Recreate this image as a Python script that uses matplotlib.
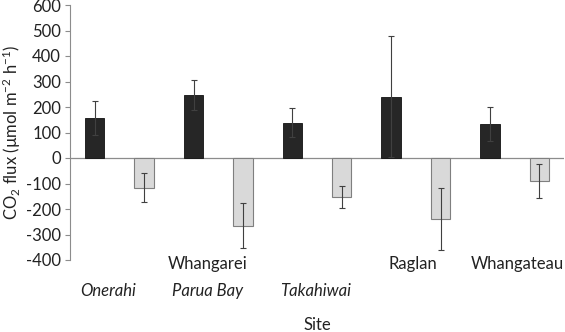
import numpy as np
import matplotlib.pyplot as plt

sites = ['Onerahi', 'Parua Bay', 'Takahiwai', 'Raglan', 'Whangateau']
# dark bars (first of each pair), light bars (second)
dark_vals = [156, 247, 138, 240, 133]
dark_err = [66, 58, 57, 238, 68]
light_vals = [-116, -265, -152, -239, -91]
light_err = [57, 87, 43, 120, 66]

plt.rcParams['font.family'] = ['Lato', 'DejaVu Sans']
plt.rcParams['font.size'] = 12
plt.rcParams['mathtext.fontset'] = 'custom'
plt.rcParams['mathtext.rm'] = 'Lato'
plt.rcParams['mathtext.it'] = 'Lato:italic'
plt.rcParams['axes.unicode_minus'] = False

fig = plt.figure(figsize=(5.65, 3.32), dpi=100)
ax = fig.add_axes([70/565, 1-260/332, 494/565, 255/332])

n = len(sites)
xd = np.arange(n) * 2
xl = xd + 1
w = 0.39
ax.bar(xd, dark_vals, w, color='#262626', edgecolor='#111111', linewidth=0.6, zorder=2)
ax.bar(xl, light_vals, w, color='#d9d9d9', edgecolor='#7f7f7f', linewidth=0.8, zorder=2)
ax.errorbar(xd, dark_vals, yerr=dark_err, fmt='none', ecolor='#404040',
            elinewidth=0.8, capsize=2.5, capthick=0.8, zorder=3)
ax.errorbar(xl, light_vals, yerr=light_err, fmt='none', ecolor='#404040',
            elinewidth=0.8, capsize=2.5, capthick=0.8, zorder=3)

ax.axhline(0, color='#8c8c8c', linewidth=0.9, zorder=1)
ax.set_xlim(-0.5, 2 * n - 0.5)
ax.set_ylim(-400, 600)
ax.set_yticks(np.arange(-400, 601, 100))
ax.set_xticks([])
for s in ['top', 'right', 'bottom']:
    ax.spines[s].set_visible(False)
ax.spines['left'].set_color('#8c8c8c')
ax.tick_params(axis='y', direction='out', length=3.5, color='#8c8c8c',
               labelcolor='#222222', pad=3)
ax.set_ylabel('CO$_\\mathregular{2}$ flux (\u00b5mol m$^\\mathregular{-2}$ h$^\\mathregular{-1}$)',
              color='#222222', labelpad=2)

tr = ax.get_xaxis_transform()
lab = dict(transform=tr, ha='center', va='center', clip_on=False, color='#222222')
ax.text(2.28, -0.015, 'Whangarei', **lab)
ax.text(6.44, -0.015, 'Raglan', **lab)
ax.text(8.55, -0.015, 'Whangateau', **lab)
ax.text(0.27, -0.12, 'Onerahi', style='italic', **lab)
ax.text(2.29, -0.12, 'Parua Bay', style='italic', **lab)
ax.text(4.48, -0.12, 'Takahiwai', style='italic', **lab)
ax.text(4.5, -0.255, 'Site', **lab)

fig.savefig('out.png', dpi=100)
